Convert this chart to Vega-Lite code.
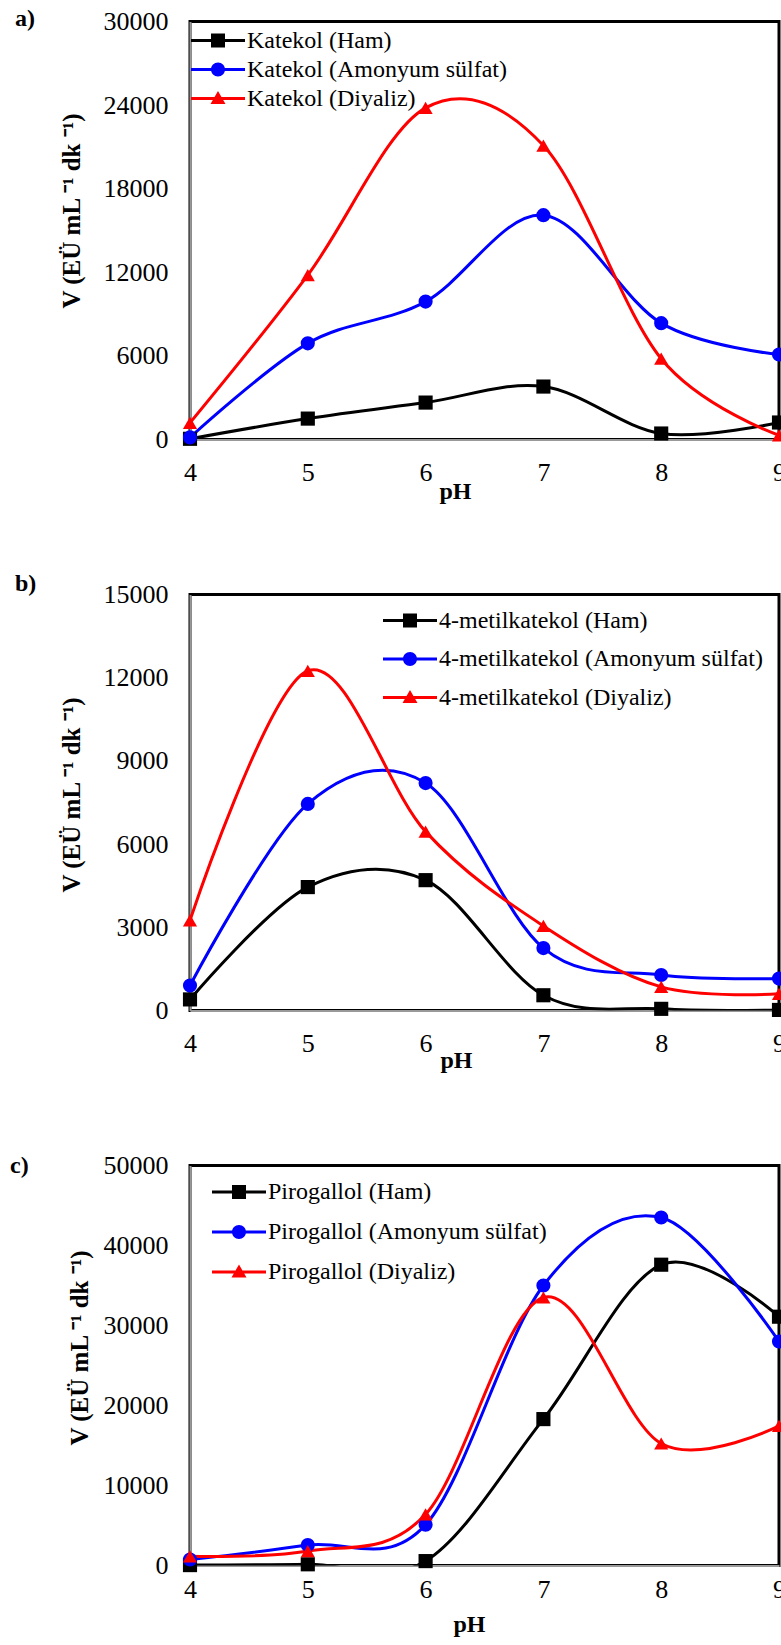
{
  "$schema": "https://vega.github.io/schema/vega-lite/v6.json",
  "background": "white",
  "padding": {"left": 8, "top": 4.5, "right": 0, "bottom": 0},
  "spacing": 155,
  "bounds": "flush",
  "config": {
    "font": "Liberation Serif",
    "view": {"stroke": "black", "strokeWidth": 3},
    "axis": {"grid": false, "ticks": false, "labelFont": "Liberation Serif", "labelFontSize": 26, "labelColor": "black", "labelFlush": false, "titleFont": "Liberation Serif", "titleFontWeight": "bold", "titleColor": "black", "domainColor": "#999999", "domainWidth": 2},
    "legend": {"orient": "none", "title": null, "symbolSize": 400, "labelFont": "Liberation Serif", "labelFontSize": 24, "labelColor": "black", "labelOffset": 0, "padding": 0, "labelLimit": 0, "symbolStrokeWidth": 0},
    "title": {"font": "Liberation Serif", "fontSize": 24, "fontWeight": "bold", "anchor": "start", "color": "black", "frame": "group", "offset": 0}
  },
  "datasets": {
    "a": [
      {"pH": 4, "V": 50, "series": "Katekol (Ham)"},
      {"pH": 5, "V": 1500, "series": "Katekol (Ham)"},
      {"pH": 6, "V": 2650, "series": "Katekol (Ham)"},
      {"pH": 7, "V": 3800, "series": "Katekol (Ham)"},
      {"pH": 8, "V": 430, "series": "Katekol (Ham)"},
      {"pH": 9, "V": 1220, "series": "Katekol (Ham)"},
      {"pH": 4, "V": 150, "series": "Katekol (Amonyum sülfat)"},
      {"pH": 5, "V": 6900, "series": "Katekol (Amonyum sülfat)"},
      {"pH": 6, "V": 9900, "series": "Katekol (Amonyum sülfat)"},
      {"pH": 7, "V": 16100, "series": "Katekol (Amonyum sülfat)"},
      {"pH": 8, "V": 8350, "series": "Katekol (Amonyum sülfat)"},
      {"pH": 9, "V": 6100, "series": "Katekol (Amonyum sülfat)"},
      {"pH": 4, "V": 1200, "series": "Katekol (Diyaliz)"},
      {"pH": 5, "V": 11800, "series": "Katekol (Diyaliz)"},
      {"pH": 6, "V": 23800, "series": "Katekol (Diyaliz)"},
      {"pH": 7, "V": 21100, "series": "Katekol (Diyaliz)"},
      {"pH": 8, "V": 5800, "series": "Katekol (Diyaliz)"},
      {"pH": 9, "V": 300, "series": "Katekol (Diyaliz)"}
    ],
    "b": [
      {"pH": 4, "V": 400, "series": "4-metilkatekol (Ham)"},
      {"pH": 5, "V": 4450, "series": "4-metilkatekol (Ham)"},
      {"pH": 6, "V": 4700, "series": "4-metilkatekol (Ham)"},
      {"pH": 7, "V": 550, "series": "4-metilkatekol (Ham)"},
      {"pH": 8, "V": 60, "series": "4-metilkatekol (Ham)"},
      {"pH": 9, "V": 20, "series": "4-metilkatekol (Ham)"},
      {"pH": 4, "V": 900, "series": "4-metilkatekol (Amonyum sülfat)"},
      {"pH": 5, "V": 7450, "series": "4-metilkatekol (Amonyum sülfat)"},
      {"pH": 6, "V": 8200, "series": "4-metilkatekol (Amonyum sülfat)"},
      {"pH": 7, "V": 2250, "series": "4-metilkatekol (Amonyum sülfat)"},
      {"pH": 8, "V": 1280, "series": "4-metilkatekol (Amonyum sülfat)"},
      {"pH": 9, "V": 1150, "series": "4-metilkatekol (Amonyum sülfat)"},
      {"pH": 4, "V": 3250, "series": "4-metilkatekol (Diyaliz)"},
      {"pH": 5, "V": 12250, "series": "4-metilkatekol (Diyaliz)"},
      {"pH": 6, "V": 6450, "series": "4-metilkatekol (Diyaliz)"},
      {"pH": 7, "V": 3050, "series": "4-metilkatekol (Diyaliz)"},
      {"pH": 8, "V": 850, "series": "4-metilkatekol (Diyaliz)"},
      {"pH": 9, "V": 600, "series": "4-metilkatekol (Diyaliz)"}
    ],
    "c": [
      {"pH": 4, "V": 50, "series": "Pirogallol (Ham)"},
      {"pH": 5, "V": 150, "series": "Pirogallol (Ham)"},
      {"pH": 6, "V": 550, "series": "Pirogallol (Ham)"},
      {"pH": 7, "V": 18300, "series": "Pirogallol (Ham)"},
      {"pH": 8, "V": 37600, "series": "Pirogallol (Ham)"},
      {"pH": 9, "V": 31100, "series": "Pirogallol (Ham)"},
      {"pH": 4, "V": 750, "series": "Pirogallol (Amonyum sülfat)"},
      {"pH": 5, "V": 2550, "series": "Pirogallol (Amonyum sülfat)"},
      {"pH": 6, "V": 5100, "series": "Pirogallol (Amonyum sülfat)"},
      {"pH": 7, "V": 35000, "series": "Pirogallol (Amonyum sülfat)"},
      {"pH": 8, "V": 43500, "series": "Pirogallol (Amonyum sülfat)"},
      {"pH": 9, "V": 28000, "series": "Pirogallol (Amonyum sülfat)"},
      {"pH": 4, "V": 1150, "series": "Pirogallol (Diyaliz)"},
      {"pH": 5, "V": 1800, "series": "Pirogallol (Diyaliz)"},
      {"pH": 6, "V": 6400, "series": "Pirogallol (Diyaliz)"},
      {"pH": 7, "V": 33500, "series": "Pirogallol (Diyaliz)"},
      {"pH": 8, "V": 15250, "series": "Pirogallol (Diyaliz)"},
      {"pH": 9, "V": 17450, "series": "Pirogallol (Diyaliz)"}
    ]
  },
  "vconcat": [
    {
      "title": {"text": "a)", "dx": -175, "dy": 26},
      "width": 589, "height": 418,
      "data": {"name": "a"},
      "encoding": {
        "x": {"field": "pH", "type": "quantitative", "scale": {"domain": [4, 9], "nice": false, "zero": false},
              "axis": {"values": [4, 5, 6, 7, 8, 9], "title": "pH", "titleFontSize": 24, "labelPadding": 20, "titlePadding": -6, "titleX": 265}},
        "y": {"field": "V", "type": "quantitative", "scale": {"domain": [0, 30000], "nice": false},
              "axis": {"values": [0, 6000, 12000, 18000, 24000, 30000], "format": "d", "title": "V (EÜ mL ⁻¹ dk ⁻¹)", "titleFontSize": 25, "labelPadding": 22, "titlePadding": 19, "titleY": 189}}
      },
      "layer": [
        {"mark": {"type": "line", "interpolate": "cardinal", "tension": 0, "strokeWidth": 3, "clip": true},
         "encoding": {"color": {"field": "series", "type": "nominal",
                  "scale": {"domain": ["Katekol (Ham)", "Katekol (Amonyum sülfat)", "Katekol (Diyaliz)"], "range": ["black", "blue", "red"]},
                  "legend": {"legendX": 33, "legendY": 7, "rowPadding": 5,
                    "encode": {"symbols": {"update": {
                      "shape": {"signal": "indexof(datum.value, 'Ham') >= 0 ? 'M-4.4,-0.15H1V0.15H-4.4Z M-2.4,-0.7H-1V0.7H-2.4Z' : indexof(datum.value, 'Amonyum') >= 0 ? 'M-4.4,-0.15H1V0.15H-4.4Z M-2.4,0A0.7,0.7 0 1,1 -1,0A0.7,0.7 0 1,1 -2.4,0Z' : 'M-4.4,-0.15H1V0.15H-4.4Z M-1.7,-0.75L-0.95,0.55H-2.45Z'"},
                      "fill": {"signal": "indexof(datum.value, 'Ham') >= 0 ? 'black' : indexof(datum.value, 'Amonyum') >= 0 ? 'blue' : 'red'"},
                      "stroke": {"value": "transparent"}, "strokeWidth": {"value": 0}, "opacity": {"value": 1}, "fillOpacity": {"value": 1}}}}}}}},
        {"transform": [{"filter": "indexof(datum.series, 'Ham') >= 0"}], "mark": {"type": "point", "shape": "square", "filled": true, "opacity": 1, "size": 200, "color": "black"}},
        {"transform": [{"filter": "indexof(datum.series, 'Amonyum') >= 0"}], "mark": {"type": "point", "shape": "circle", "filled": true, "opacity": 1, "size": 200, "color": "blue"}},
        {"transform": [{"filter": "indexof(datum.series, 'Diyaliz') >= 0"}], "mark": {"type": "point", "shape": "triangle-up", "filled": true, "opacity": 1, "size": 200, "color": "red"}}
      ]
    },
    {
      "title": {"text": "b)", "dx": -175, "dy": 18},
      "width": 589, "height": 416,
      "data": {"name": "b"},
      "encoding": {
        "x": {"field": "pH", "type": "quantitative", "scale": {"domain": [4, 9], "nice": false, "zero": false},
              "axis": {"values": [4, 5, 6, 7, 8, 9], "title": "pH", "titleFontSize": 24, "labelPadding": 20, "titlePadding": -8, "titleX": 266}},
        "y": {"field": "V", "type": "quantitative", "scale": {"domain": [0, 15000], "nice": false},
              "axis": {"values": [0, 3000, 6000, 9000, 12000, 15000], "format": "d", "title": "V (EÜ mL ⁻¹ dk ⁻¹)", "titleFontSize": 25, "labelPadding": 22, "titlePadding": 19, "titleY": 200}}
      },
      "layer": [
        {"mark": {"type": "line", "interpolate": "cardinal", "tension": 0, "strokeWidth": 3, "clip": true},
         "encoding": {"color": {"field": "series", "type": "nominal",
                  "scale": {"domain": ["4-metilkatekol (Ham)", "4-metilkatekol (Amonyum sülfat)", "4-metilkatekol (Diyaliz)"], "range": ["black", "blue", "red"]},
                  "legend": {"legendX": 225, "legendY": 14, "rowPadding": 14.5,
                    "encode": {"symbols": {"update": {
                      "shape": {"signal": "indexof(datum.value, 'Ham') >= 0 ? 'M-4.4,-0.15H1V0.15H-4.4Z M-2.4,-0.7H-1V0.7H-2.4Z' : indexof(datum.value, 'Amonyum') >= 0 ? 'M-4.4,-0.15H1V0.15H-4.4Z M-2.4,0A0.7,0.7 0 1,1 -1,0A0.7,0.7 0 1,1 -2.4,0Z' : 'M-4.4,-0.15H1V0.15H-4.4Z M-1.7,-0.75L-0.95,0.55H-2.45Z'"},
                      "fill": {"signal": "indexof(datum.value, 'Ham') >= 0 ? 'black' : indexof(datum.value, 'Amonyum') >= 0 ? 'blue' : 'red'"},
                      "stroke": {"value": "transparent"}, "strokeWidth": {"value": 0}, "opacity": {"value": 1}, "fillOpacity": {"value": 1}}}}}}}},
        {"transform": [{"filter": "indexof(datum.series, 'Ham') >= 0"}], "mark": {"type": "point", "shape": "square", "filled": true, "opacity": 1, "size": 200, "color": "black"}},
        {"transform": [{"filter": "indexof(datum.series, 'Amonyum') >= 0"}], "mark": {"type": "point", "shape": "circle", "filled": true, "opacity": 1, "size": 200, "color": "blue"}},
        {"transform": [{"filter": "indexof(datum.series, 'Diyaliz') >= 0"}], "mark": {"type": "point", "shape": "triangle-up", "filled": true, "opacity": 1, "size": 200, "color": "red"}}
      ]
    },
    {
      "title": {"text": "c)", "dx": -180, "dy": 29},
      "width": 589, "height": 400,
      "data": {"name": "c"},
      "encoding": {
        "x": {"field": "pH", "type": "quantitative", "scale": {"domain": [4, 9], "nice": false, "zero": false},
              "axis": {"values": [4, 5, 6, 7, 8, 9], "title": "pH", "titleFontSize": 24, "labelPadding": 11, "titlePadding": 10, "titleX": 279}},
        "y": {"field": "V", "type": "quantitative", "scale": {"domain": [0, 50000], "nice": false},
              "axis": {"values": [0, 10000, 20000, 30000, 40000, 50000], "format": "d", "title": "V (EÜ mL ⁻¹ dk ⁻¹)", "titleFontSize": 25, "labelPadding": 22, "titlePadding": 11, "titleY": 182}}
      },
      "layer": [
        {"mark": {"type": "line", "interpolate": "cardinal", "tension": 0, "strokeWidth": 3, "clip": true},
         "encoding": {"color": {"field": "series", "type": "nominal",
                  "scale": {"domain": ["Pirogallol (Ham)", "Pirogallol (Amonyum sülfat)", "Pirogallol (Diyaliz)"], "range": ["black", "blue", "red"]},
                  "legend": {"legendX": 54, "legendY": 14.5, "rowPadding": 16,
                    "encode": {"symbols": {"update": {
                      "shape": {"signal": "indexof(datum.value, 'Ham') >= 0 ? 'M-4.4,-0.15H1V0.15H-4.4Z M-2.4,-0.7H-1V0.7H-2.4Z' : indexof(datum.value, 'Amonyum') >= 0 ? 'M-4.4,-0.15H1V0.15H-4.4Z M-2.4,0A0.7,0.7 0 1,1 -1,0A0.7,0.7 0 1,1 -2.4,0Z' : 'M-4.4,-0.15H1V0.15H-4.4Z M-1.7,-0.75L-0.95,0.55H-2.45Z'"},
                      "fill": {"signal": "indexof(datum.value, 'Ham') >= 0 ? 'black' : indexof(datum.value, 'Amonyum') >= 0 ? 'blue' : 'red'"},
                      "stroke": {"value": "transparent"}, "strokeWidth": {"value": 0}, "opacity": {"value": 1}, "fillOpacity": {"value": 1}}}}}}}},
        {"transform": [{"filter": "indexof(datum.series, 'Ham') >= 0"}], "mark": {"type": "point", "shape": "square", "filled": true, "opacity": 1, "size": 200, "color": "black"}},
        {"transform": [{"filter": "indexof(datum.series, 'Amonyum') >= 0"}], "mark": {"type": "point", "shape": "circle", "filled": true, "opacity": 1, "size": 200, "color": "blue"}},
        {"transform": [{"filter": "indexof(datum.series, 'Diyaliz') >= 0"}], "mark": {"type": "point", "shape": "triangle-up", "filled": true, "opacity": 1, "size": 200, "color": "red"}}
      ]
    }
  ],
  "resolve": {"scale": {"color": "independent", "x": "independent", "y": "independent"}}
}
